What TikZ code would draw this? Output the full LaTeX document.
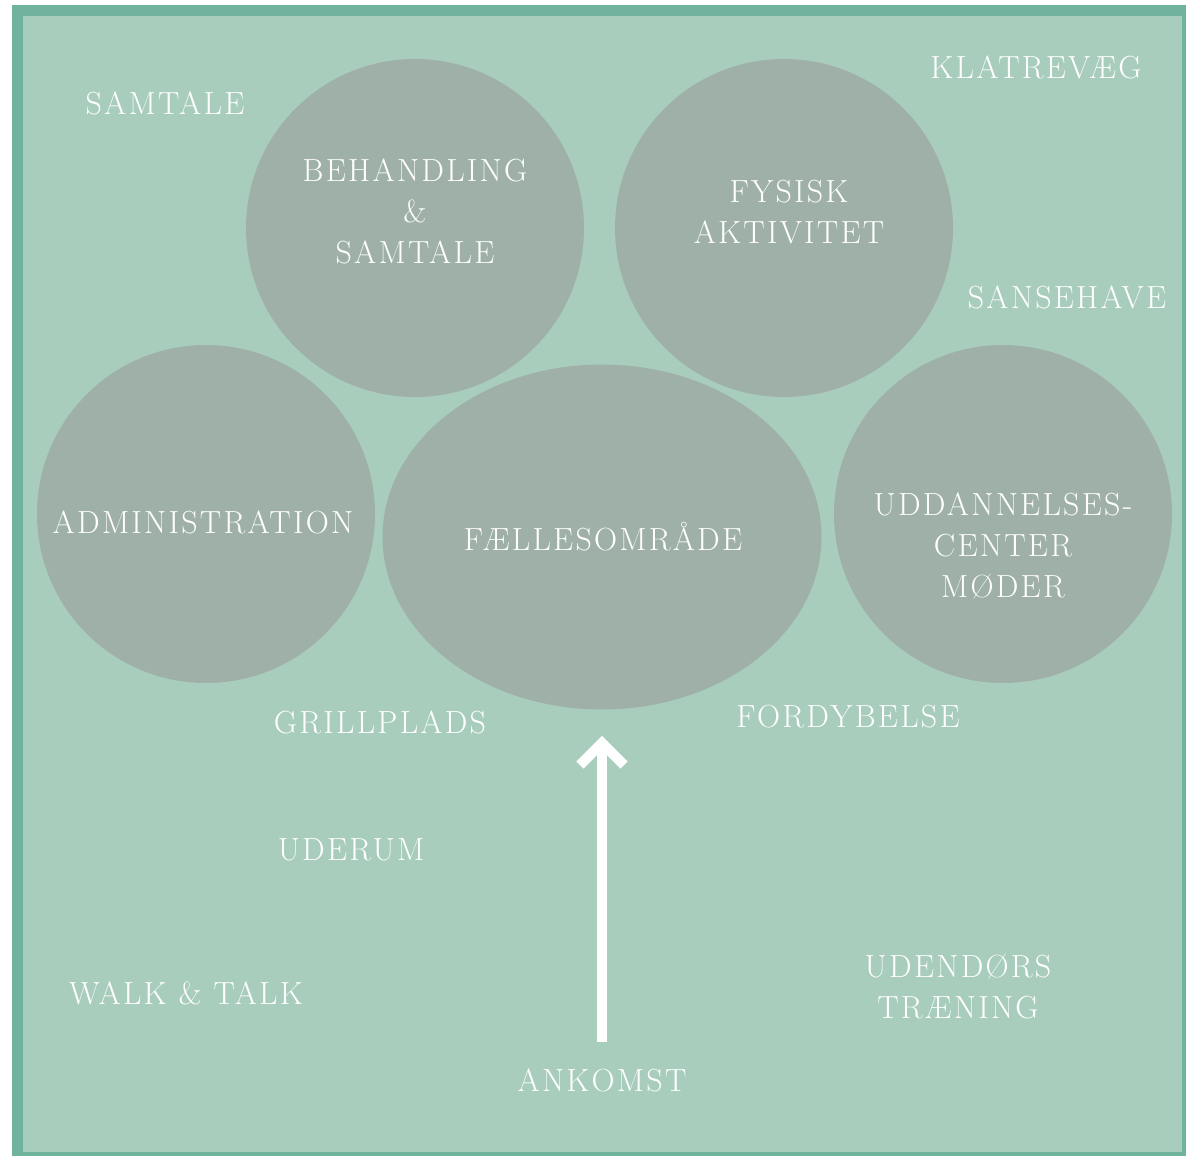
\documentclass[tikz,border=0pt]{standalone}
\usepackage{fontspec}
\setmainfont{Latin Modern Roman}
\newfontfamily\lblfont[LetterSpace=7]{Latin Modern Roman}
\usetikzlibrary{calc}
\definecolor{frame}{RGB}{111,178,158}
\definecolor{field}{RGB}{168,205,189}
\definecolor{room}{RGB}{159,176,168}
\begin{document}
\begin{tikzpicture}[x=1pt,y=-1pt,
  lbl/.style={text=white,font=\lblfont\fontsize{32}{41}\selectfont,align=center,inner sep=0pt},
  roomc/.style={circle,fill=room,minimum size=338pt,inner sep=0pt},
  arr/.style={draw=white,line width=10pt}]
\useasboundingbox (0,0) rectangle (1186,1156);
\fill[frame] (12,5) rectangle (1192,1162);
\fill[field] (23,16) rectangle (1182,1152);
% rooms
\node[roomc] (beh) at (415,228) {};
\node[roomc] (fys) at (784,228) {};
\node[roomc] (adm) at (206,514) {};
\node[roomc] (udd) at (1003,514) {};
\fill[room] (602,537) ellipse [x radius=219.5, y radius=172.5];
\coordinate (fael) at (602,537);
% room labels
\node[lbl] at (415,211) {BEHANDLING\\\&\\SAMTALE};
\node[lbl] at (789,212) {FYSISK\\AKTIVITET};
\node[lbl] at (203,522) {ADMINISTRATION};
\node[lbl] at (603,537) {FÆLLESOMRÅDE};
\node[lbl] at (1003,546) {UDDANNELSES-\\CENTER\\MØDER};
% outdoor labels
\node[lbl] (samtale) at (165,103) {SAMTALE};
\node[lbl] (klatre) at (1036,67) {KLATREVÆG};
\node[lbl] (sanse) at (1067,297) {SANSEHAVE};
\node[lbl] (grill) at (380,722) {GRILLPLADS};
\node[lbl] (fordyb) at (848,717) {FORDYBELSE};
\node[lbl] (uderum) at (351,850) {UDERUM};
\node[lbl] (walk) at (186,993) {WALK \& TALK};
\node[lbl] (udend) at (958,986) {UDENDØRS\\TRÆNING};
\node[lbl] (ankomst) at (602,1080) {ANKOMST};
% arrow
\coordinate (astart) at (602,1042);
\coordinate (aend) at (602,746);
\coordinate (atip) at (602,743);
\draw[arr] (astart) -- (aend);
\draw[arr,miter limit=10] ($(atip)+(-22,22)$) -- (atip) -- ($(atip)+(22,22)$);
\end{tikzpicture}
\end{document}
